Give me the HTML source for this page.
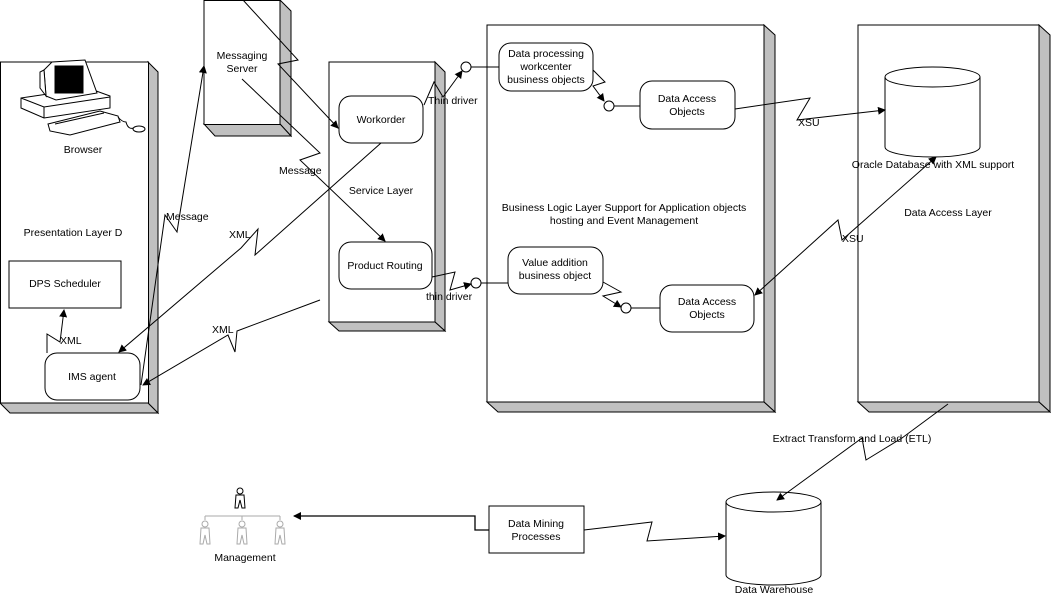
<!DOCTYPE html>
<html><head><meta charset="utf-8"><style>
html,body{margin:0;padding:0;background:#fff}
svg{display:block}
text{font-family:"Liberation Sans",Arial,sans-serif;font-size:10.5px;fill:#000}
</style></head><body>
<svg width="1051" height="596" viewBox="0 0 1051 596" xmlns="http://www.w3.org/2000/svg">
<defs>
<marker id="a" markerWidth="8" markerHeight="8" refX="7" refY="4" orient="auto" markerUnits="userSpaceOnUse"><path d="M0,0 L8,4 L0,8 z" fill="#000"/></marker>
<marker id="as" markerWidth="8" markerHeight="8" refX="1" refY="4" orient="auto" markerUnits="userSpaceOnUse"><path d="M8,0 L0,4 L8,8 z" fill="#000"/></marker>
</defs>
<g stroke="#000" stroke-width="1" fill="none">
<g fill="#c0c0c0">
<polygon points="148,62 158,72 158,413 148,403"/><polygon points="0,403 148,403 158,413 10,413"/>
<polygon points="280,0 291,11 291,136 280,124"/><polygon points="204,124 280,124 291,136 215,136"/>
<polygon points="435,62 445,72 445,331 435,322"/><polygon points="329,322 435,322 445,331 339,331"/>
<polygon points="764,25 775,35 775,412 764,402"/><polygon points="487,402 764,402 775,412 498,412"/>
<polygon points="1039,25 1050,35 1050,412 1039,402"/><polygon points="858,402 1039,402 1050,412 869,412"/>
</g>
<g fill="#fff">
<rect x="0.5" y="62" width="148" height="341"/>
<rect x="204" y="0.5" width="76" height="124"/>
<rect x="329" y="62" width="106" height="260"/>
<rect x="487" y="25" width="277" height="377"/>
<rect x="858" y="25" width="181" height="377"/>
<rect x="9" y="261" width="112" height="47"/>
<rect x="45" y="353" width="95" height="47" rx="12"/>
<rect x="339" y="96" width="84" height="47" rx="12"/>
<rect x="339" y="242" width="93" height="47" rx="12"/>
<rect x="499" y="43" width="94" height="48" rx="12"/>
<rect x="640" y="81" width="95" height="48" rx="12"/>
<rect x="508" y="247" width="95" height="47" rx="12"/>
<rect x="660" y="285" width="94" height="47" rx="12"/>
<rect x="489" y="506" width="95" height="47"/>
<path d="M885,77 L885,147 A47.5,10 0 0 0 980,147 L980,77"/>
<ellipse cx="932.5" cy="77" rx="47.5" ry="10"/>
<path d="M726,502 L726,575 A47.5,10 0 0 0 821,575 L821,502"/>
<ellipse cx="773.5" cy="502" rx="47.5" ry="10"/>
</g>
<!-- computer -->
<g fill="#fff">
<polygon points="21,98 88,88 110,96 110,108 44,118 21,108"/>
<polyline points="21,98 44,107 110,97"/>
<line x1="44" y1="107" x2="44" y2="118"/>
<polygon points="44,70 52,62 85,60 97,93 56,100 46,96"/>
<polygon points="44,70 40,72 40,88 46,96"/>
<rect x="55" y="66" width="28" height="27" fill="#000"/>
<polygon points="48,124 100,111 118,116 120,122 70,135 50,131"/>
<line x1="55" y1="124" x2="104" y2="113"/>
<path d="M118,117 Q122,122 126,122 Q128,130 134,128"/>
<ellipse cx="139" cy="129" rx="6" ry="3"/>
</g>
<g fill="#fff">
<circle cx="466" cy="67" r="5"/><circle cx="609" cy="106" r="5"/>
<circle cx="476" cy="283" r="5"/><circle cx="626" cy="308" r="5"/>
</g>
<line x1="471" y1="67" x2="499" y2="67"/>
<line x1="614" y1="106" x2="640" y2="106"/>
<line x1="481" y1="283" x2="508" y2="283"/>
<line x1="631" y1="308" x2="660" y2="308"/>
<polyline points="47,353 47,334 60,342 64,310" marker-end="url(#a)"/>
<polyline points="141,385 165,215 177,232 180,213 204,66" marker-end="url(#a)"/>
<polyline points="381,143 255,255 258,229 241,248 119,352" marker-end="url(#a)"/>
<polyline points="320,300 237,331 235,352 228,335 143,385" marker-end="url(#a)"/>
<polyline points="243,0 298,60 278,64 338,128" marker-end="url(#a)"/>
<polyline points="242,79 320,153 300,160 385,241" marker-end="url(#a)"/>
<polyline points="424,105 434,82 443,97 462,71" marker-end="url(#a)"/>
<polyline points="432,277 455,272 450,290 471,284" marker-end="url(#a)"/>
<polyline points="593,70 605,82 593,86 604,101" marker-end="url(#a)"/>
<polyline points="735,109 810,98 797,120 885,110" marker-end="url(#a)"/>
<polyline points="603,282 621,292 603,296 621,307" marker-end="url(#a)"/>
<polyline points="755,295 838,220 842,240 936,157" marker-start="url(#as)" marker-end="url(#a)"/>
<polyline points="948,404 902,438 866,460 862,438 777,500" marker-end="url(#a)"/>
<polyline points="584,530 652,522 647,541 725,536" marker-end="url(#a)"/>
<polyline points="489,530 475,530 475,516 294,516" stroke-width="1.3" marker-end="url(#a)"/>
<g stroke="#000">
<circle cx="240" cy="491" r="3"/><path d="M236,495 L244,495 L245,508 L242,508 L240,500 L238,508 L235,508 Z"/>
</g>
<g stroke="#aaa">
<line x1="205" y1="516" x2="280" y2="516"/><line x1="205" y1="516" x2="205" y2="520"/><line x1="242" y1="516" x2="242" y2="520"/><line x1="280" y1="516" x2="280" y2="520"/>
<circle cx="205" cy="524" r="3"/><path d="M201,528 L209,528 L210,544 L207,544 L205,535 L203,544 L200,544 Z"/>
<circle cx="242" cy="524" r="3"/><path d="M238,528 L246,528 L247,544 L244,544 L242,535 L240,544 L237,544 Z"/>
<circle cx="280" cy="524" r="3"/><path d="M276,528 L284,528 L285,544 L282,544 L280,535 L278,544 L275,544 Z"/>
</g>
</g>
<g text-anchor="middle">
<text x="83" y="153">Browser</text>
<text x="73" y="236">Presentation Layer D</text>
<text x="65" y="287">DPS Scheduler</text>
<text x="92" y="380">IMS agent</text>
<text x="242" y="59">Messaging</text>
<text x="242" y="72">Server</text>
<text x="381" y="123">Workorder</text>
<text x="381" y="194">Service Layer</text>
<text x="385" y="269">Product Routing</text>
<text x="546" y="57">Data processing</text>
<text x="546" y="70">workcenter</text>
<text x="546" y="83">business objects</text>
<text x="687" y="102">Data Access</text>
<text x="687" y="115">Objects</text>
<text x="624" y="211">Business Logic Layer Support for Application objects</text>
<text x="624" y="224">hosting and Event Management</text>
<text x="555" y="266">Value addition</text>
<text x="555" y="279">business object</text>
<text x="707" y="305">Data Access</text>
<text x="707" y="318">Objects</text>
<text x="933" y="168">Oracle Database with XML support</text>
<text x="948" y="216">Data Access Layer</text>
<text x="536" y="527">Data Mining</text>
<text x="536" y="540">Processes</text>
<text x="774" y="593">Data Warehouse</text>
<text x="245" y="561">Management</text>
<text x="852" y="442">Extract Transform and Load (ETL)</text>
</g>
<text x="60" y="344">XML</text>
<text x="166" y="220">Message</text>
<text x="229" y="238">XML</text>
<text x="212" y="333">XML</text>
<text x="279" y="174">Message</text>
<text x="428" y="104">Thin driver</text>
<text x="426" y="300">thin driver</text>
<text x="798" y="126">XSU</text>
<text x="842" y="242">XSU</text>
</svg>
</body></html>
